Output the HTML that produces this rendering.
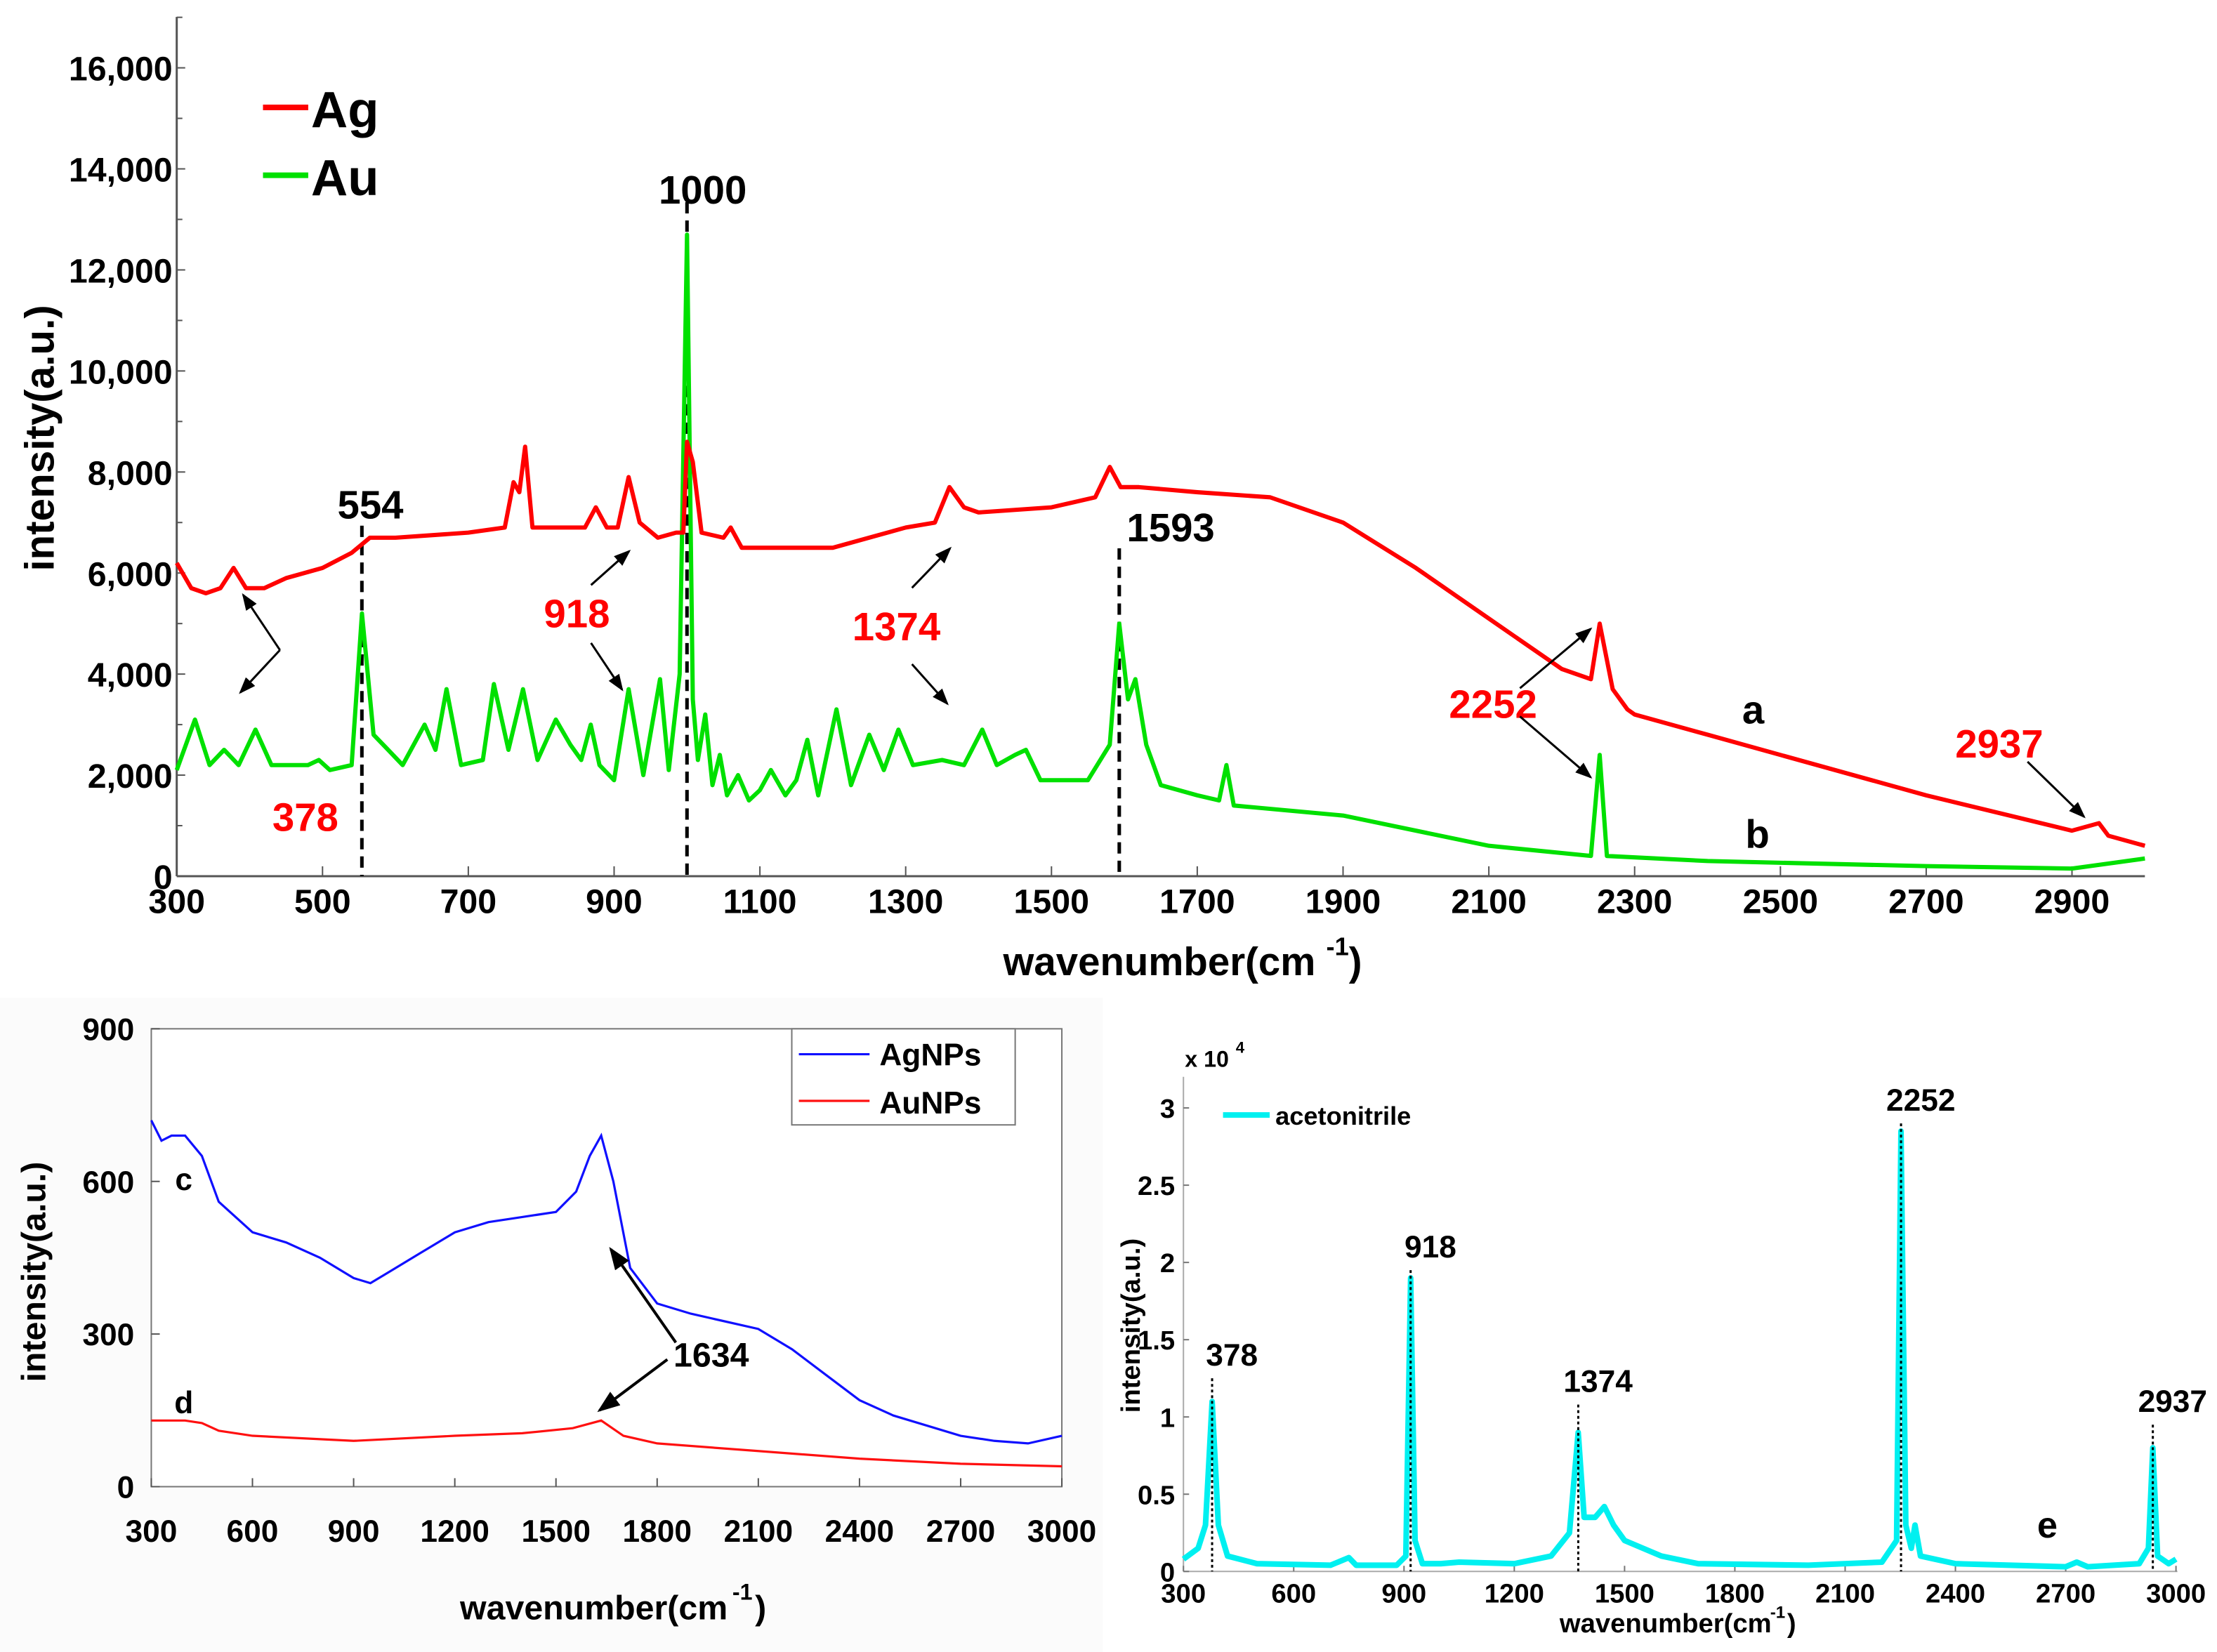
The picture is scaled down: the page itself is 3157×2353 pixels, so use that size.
<!DOCTYPE html>
<html><head><meta charset="utf-8"><style>
html,body{margin:0;padding:0;background:#fff}
svg{display:block}
text{font-family:"Liberation Sans",Arial,sans-serif;font-weight:bold}
</style></head><body>
<svg id="fig" width="3157" height="2353" viewBox="0 0 1568 1169" preserveAspectRatio="none">
<defs><marker id="ah" markerWidth="8" markerHeight="8" refX="7" refY="4" orient="auto"><path d="M0,1 L8,4 L0,7 Z" fill="#000"/></marker></defs>
<rect x="0" y="0" width="1568" height="1169" fill="#fff"/>
<g id="top"></g>
<g id="bl"></g>
<g id="br"></g>
</svg>
<script>
// ---------- Top chart data ----------
const agX=[300,320,340,360,378,395,420,450,500,540,565,600,700,750,762,770,778,788,860,875,890,905,920,935,960,985,995,1000,1008,1020,1050,1060,1075,1200,1300,1340,1360,1380,1400,1500,1560,1580,1595,1620,1700,1800,1900,2000,2100,2200,2240,2252,2270,2290,2300,2400,2500,2700,2900,2937,2950,3000];
const agY=[6200,5700,5600,5700,6100,5700,5700,5900,6100,6400,6700,6700,6800,6900,7800,7600,8500,6900,6900,7300,6900,6900,7900,7000,6700,6800,6800,8600,8200,6800,6700,6900,6500,6500,6900,7000,7700,7300,7200,7300,7500,8100,7700,7700,7600,7500,7000,6100,5100,4100,3900,5000,3700,3300,3200,2800,2400,1600,900,1050,800,600];
const auX=[300,325,345,365,385,408,430,480,495,510,540,554,570,590,610,640,655,670,690,720,735,755,775,795,820,840,855,868,880,900,920,940,963,975,990,1000,1008,1015,1025,1035,1045,1055,1070,1085,1100,1115,1135,1150,1165,1180,1205,1225,1250,1270,1290,1310,1350,1380,1405,1425,1450,1465,1485,1550,1580,1593,1605,1615,1630,1650,1700,1730,1740,1750,1900,2100,2240,2252,2262,2400,2700,2900,2950,3000];
const auY=[2100,3100,2200,2500,2200,2900,2200,2200,2300,2100,2200,5200,2800,2500,2200,3000,2500,3700,2200,2300,3800,2500,3700,2300,3100,2600,2300,3000,2200,1900,3700,2000,3900,2100,4000,12700,3500,2300,3200,1800,2400,1600,2000,1500,1700,2100,1600,1900,2700,1600,3300,1800,2800,2100,2900,2200,2300,2200,2900,2200,2400,2500,1900,1900,2600,5000,3500,3900,2600,1800,1600,1500,2200,1400,1200,600,400,2400,400,300,200,150,250,350];
const topXTicks=[300,500,700,900,1100,1300,1500,1700,1900,2100,2300,2500,2700,2900];
const topYTicks=[0,2000,4000,6000,8000,10000,12000,14000,16000];
// ---------- Bottom-left data ----------
const agnpX=[300,330,360,400,450,500,600,700,800,900,950,1000,1100,1200,1300,1400,1500,1560,1600,1634,1670,1720,1800,1900,2000,2100,2200,2300,2400,2500,2600,2700,2800,2900,3000];
const agnpY=[720,680,690,690,650,560,500,480,450,410,400,420,460,500,520,530,540,580,650,690,600,430,360,340,325,310,270,220,170,140,120,100,90,85,100];
const aunpX=[300,400,450,500,600,900,1200,1400,1550,1634,1700,1800,2100,2400,2700,3000];
const aunpY=[130,130,125,110,100,90,100,105,115,130,100,85,70,55,45,40];
const blXTicks=[300,600,900,1200,1500,1800,2100,2400,2700,3000];
const blYTicks=[0,300,600,900];
// ---------- Bottom-right data ----------
const acX=[300,340,360,378,395,420,500,700,750,770,880,905,918,930,950,1000,1050,1200,1300,1350,1374,1390,1420,1445,1470,1500,1600,1700,2000,2200,2240,2252,2265,2280,2290,2305,2400,2700,2730,2760,2900,2925,2937,2950,2980,3000];
const acY=[0.08,0.15,0.3,1.1,0.3,0.1,0.05,0.04,0.09,0.04,0.04,0.1,1.9,0.2,0.05,0.05,0.06,0.05,0.1,0.25,0.9,0.35,0.35,0.42,0.3,0.2,0.1,0.05,0.04,0.06,0.2,2.85,0.3,0.15,0.3,0.1,0.05,0.03,0.06,0.03,0.05,0.15,0.8,0.1,0.05,0.08];
const brXTicks=[300,600,900,1200,1500,1800,2100,2400,2700,3000];
const brYTicks=[0,0.5,1,1.5,2,2.5,3];
const brYLabels=["0","0.5","1","1.5","2","2.5","3"];

const NS="http://www.w3.org/2000/svg";
function mk(parent,tag,attrs,txt){const e=document.createElementNS(NS,tag);for(const k in attrs)e.setAttribute(k,attrs[k]);if(txt!==undefined)e.textContent=txt;parent.appendChild(e);return e;}
function pathD(xs,ys,fx,fy){return xs.map((v,i)=>(i?'L':'M')+fx(v).toFixed(1)+','+fy(ys[i]).toFixed(1)).join(' ');}

// ===== TOP =====
(function(){
const g=document.getElementById('top');
const fx=v=>125+(v-300)/2700*1392, fy=v=>620-v/16000*572;
let e;
e=mk(g,'line',{x1:125,y1:12,x2:125,y2:620,stroke:'#555','stroke-width':1.5});

e=mk(g,'line',{x1:125,y1:620,x2:1517,y2:620,stroke:'#555','stroke-width':1.5});

topYTicks.forEach(t=>{mk(g,'line',{x1:125,y1:fy(t),x2:131,y2:fy(t),stroke:'#555'});
 mk(g,'line',{x1:125,y1:fy(t+1000),x2:129,y2:fy(t+1000),stroke:'#555'});
 e=mk(g,'text',{x:122,y:fy(t)+9,'text-anchor':'end','font-size':24},t.toLocaleString('en-US'));
 });
topXTicks.forEach(t=>{mk(g,'line',{x1:fx(t),y1:620,x2:fx(t),y2:613,stroke:'#555'});
 e=mk(g,'text',{x:fx(t),y:646,'text-anchor':'middle','font-size':24},String(t));
 });
e=mk(g,'text',{x:820,y:690,'text-anchor':'middle','font-size':28},'wavenumber(cm');

mk(g,'text',{x:938,y:676,'font-size':18},'-1');mk(g,'text',{x:954,y:690,'font-size':28},')');
e=mk(g,'text',{x:38,y:310,'text-anchor':'middle','font-size':29,transform:'rotate(-90 38 310)'},'intensity(a.u.)');

[[554,372],[1000,143],[1593,388]].forEach(d=>{e=mk(g,'line',{x1:fx(d[0]),y1:d[1],x2:fx(d[0]),y2:620,stroke:'#000','stroke-width':2.5,'stroke-dasharray':'8,5'});
 });
e=mk(g,'path',{d:pathD(auX,auY,fx,fy),fill:'none',stroke:'#00e000','stroke-width':3,'stroke-linejoin':'round'});

e=mk(g,'path',{d:pathD(agX,agY,fx,fy),fill:'none',stroke:'#ff0000','stroke-width':3,'stroke-linejoin':'round'});

mk(g,'line',{x1:186,y1:76,x2:218,y2:76,stroke:'#ff0000','stroke-width':4});
e=mk(g,'text',{x:220,y:90,'font-size':36},'Ag');
mk(g,'line',{x1:186,y1:124,x2:218,y2:124,stroke:'#00e000','stroke-width':4});
e=mk(g,'text',{x:220,y:138,'font-size':36},'Au');
const labs=[[262,367,'554','#000'],[497,144,'1000','#000'],[828,383,'1593','#000'],[216,588,'378','#f00'],[408,444,'918','#f00'],[634,453,'1374','#f00'],[1056,508,'2252','#f00'],[1414,536,'2937','#f00'],[1240,512,'a','#000'],[1243,600,'b','#000']];
labs.forEach(l=>{e=mk(g,'text',{x:l[0],y:l[1],'text-anchor':'middle','font-size':28,fill:l[3]},l[2]);
 });
const arr=[[198,460,172,421],[198,460,170,490],[418,414,445,390],[418,455,440,488],[645,416,672,388],[645,470,670,498],[1075,487,1125,445],[1075,507,1125,550],[1434,539,1474,578]];
arr.forEach(a=>{e=mk(g,'line',{x1:a[0],y1:a[1],x2:a[2],y2:a[3],stroke:'#000','stroke-width':1.5,'marker-end':'url(#ah)'});
 });
})();

// ===== BOTTOM LEFT =====
(function(){
const g=document.getElementById('bl');
const fx=v=>107+(v-300)/2700*644, fy=v=>1052-v/900*324;
let e;
mk(g,'rect',{x:0,y:706,width:780,height:463,fill:'#fbfbfb'});
e=mk(g,'rect',{x:107,y:728,width:644,height:324,fill:'#fff',stroke:'#777','stroke-width':1});

blYTicks.forEach(t=>{mk(g,'line',{x1:107,y1:fy(t),x2:113,y2:fy(t),stroke:'#555'});
 e=mk(g,'text',{x:95,y:fy(t)+8,'text-anchor':'end','font-size':22},String(t));
 });
blXTicks.forEach(t=>{mk(g,'line',{x1:fx(t),y1:1052,x2:fx(t),y2:1046,stroke:'#555'});
 e=mk(g,'text',{x:fx(t),y:1091,'text-anchor':'middle','font-size':22},String(t));
 });
e=mk(g,'text',{x:420,y:1146,'text-anchor':'middle','font-size':24},'wavenumber(cm');

mk(g,'text',{x:518,y:1132,'font-size':16},'-1');mk(g,'text',{x:534,y:1146,'font-size':24},')');
e=mk(g,'text',{x:32,y:900,'text-anchor':'middle','font-size':24,transform:'rotate(-90 32 900)'},'intensity(a.u.)');

e=mk(g,'path',{d:pathD(agnpX,agnpY,fx,fy),fill:'none',stroke:'#1010ff','stroke-width':1.6});

e=mk(g,'path',{d:pathD(aunpX,aunpY,fx,fy),fill:'none',stroke:'#ff1010','stroke-width':1.6});

e=mk(g,'rect',{x:560,y:728,width:158,height:68,fill:'#fff',stroke:'#777'});

mk(g,'line',{x1:565,y1:746,x2:615,y2:746,stroke:'#1010ff','stroke-width':1.6});
e=mk(g,'text',{x:622,y:754,'font-size':22},'AgNPs');
mk(g,'line',{x1:565,y1:779,x2:615,y2:779,stroke:'#ff1010','stroke-width':1.6});
e=mk(g,'text',{x:622,y:788,'font-size':22},'AuNPs');
e=mk(g,'text',{x:130,y:842,'text-anchor':'middle','font-size':22},'c');
e=mk(g,'text',{x:130,y:1000,'text-anchor':'middle','font-size':22},'d');
e=mk(g,'text',{x:503,y:967,'text-anchor':'middle','font-size':24},'1634');
e=mk(g,'line',{x1:478,y1:950,x2:432,y2:884,stroke:'#000','stroke-width':2,'marker-end':'url(#ah)'});
e=mk(g,'line',{x1:472,y1:962,x2:424,y2:998,stroke:'#000','stroke-width':2,'marker-end':'url(#ah)'});
})();

// ===== BOTTOM RIGHT =====
(function(){
const g=document.getElementById('br');
const fx=v=>837+(v-300)/2700*702, fy=v=>1112-v/3*328;
let e;
mk(g,'line',{x1:837,y1:762,x2:837,y2:1112,stroke:'#aaa'});
mk(g,'line',{x1:837,y1:1112,x2:1540,y2:1112,stroke:'#aaa'});
brYTicks.forEach((t,i)=>{mk(g,'line',{x1:837,y1:fy(t),x2:841,y2:fy(t),stroke:'#777'});
 e=mk(g,'text',{x:831,y:fy(t)+7,'text-anchor':'end','font-size':19},brYLabels[i]);
 });
brXTicks.forEach(t=>{mk(g,'line',{x1:fx(t),y1:1112,x2:fx(t),y2:1108,stroke:'#777'});
 e=mk(g,'text',{x:fx(t),y:1134,'text-anchor':'middle','font-size':19},String(t));
 });
e=mk(g,'text',{x:838,y:755,'font-size':16},'x 10');
mk(g,'text',{x:874,y:745,'font-size':11},'4');
e=mk(g,'text',{x:1178,y:1155,'text-anchor':'middle','font-size':19},'wavenumber(cm');

mk(g,'text',{x:1252,y:1145,'font-size':12},'-1');mk(g,'text',{x:1264,y:1155,'font-size':19},')');
e=mk(g,'text',{x:806,y:938,'text-anchor':'middle','font-size':19,transform:'rotate(-90 806 938)'},'intensity(a.u.)');

e=mk(g,'path',{d:pathD(acX,acY,fx,fy),fill:'none',stroke:'#00f0f0','stroke-width':4,'stroke-linejoin':'round'});

[[378,1.25],[918,1.95],[1374,1.08],[2252,2.9],[2937,0.95]].forEach(p=>{
 e=mk(g,'line',{x1:fx(p[0]),y1:fy(p[1]),x2:fx(p[0]),y2:1112,stroke:'#000','stroke-width':1.5,'stroke-dasharray':'2,2'});
 
 e=mk(g,'text',{x:fx(p[0])+14,y:fy(p[1])-9,'text-anchor':'middle','font-size':22},String(p[0]));
 });
mk(g,'line',{x1:865,y1:789,x2:898,y2:789,stroke:'#00f0f0','stroke-width':4});
e=mk(g,'text',{x:902,y:796,'font-size':18},'acetonitrile');
e=mk(g,'text',{x:1448,y:1088,'text-anchor':'middle','font-size':26,'font-family':'Liberation Serif'},'e');
})();
</script>
</body></html>
